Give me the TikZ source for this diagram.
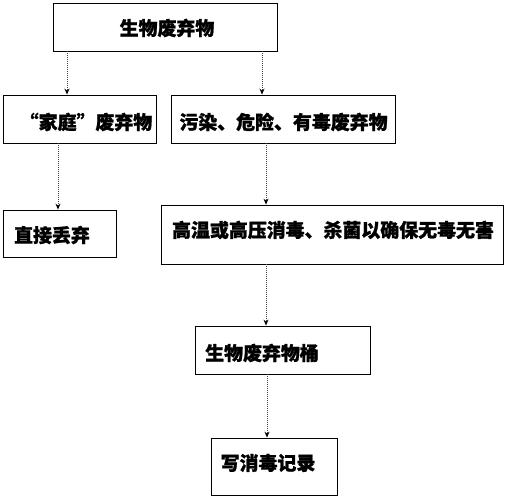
\documentclass[tikz,border=0pt]{standalone}
\usepackage{fontspec}
\newfontfamily\cjk{Noto Sans CJK SC}[BoldFeatures={FakeBold=1.2}]
\usetikzlibrary{arrows.meta}
\begin{document}
\begin{tikzpicture}[x=1bp,y=-1bp,
  box/.style={draw=black,line width=0.8bp,rectangle,inner sep=0pt},
  lbl/.style={inner sep=0pt,font=\cjk\bfseries\fontsize{19}{22}\selectfont},
  arr/.style={draw=black!75,line width=1bp,densely dotted,-{Stealth[length=6bp,width=5bp,black]}}]
\useasboundingbox (0,0) rectangle (507,498);
% boxes
\node[box,minimum width=224bp,minimum height=48bp] (b1) at (165,27) {};
\node[box,minimum width=153bp,minimum height=48bp] (b2) at (79.5,119) {};
\node[box,minimum width=224bp,minimum height=48bp] (b3) at (283,119) {};
\node[box,minimum width=113bp,minimum height=47bp] (b4) at (59.5,233.5) {};
\node[box,minimum width=342bp,minimum height=59bp] (b5) at (332,234.5) {};
\node[box,minimum width=175bp,minimum height=48bp] (b6) at (282.5,350) {};
\node[box,minimum width=126bp,minimum height=57bp] (b7) at (274,466.5) {};
% labels
\node[lbl] (t1) at (167,28) {生物废弃物};
\node[lbl] (t2) at (86,122) {“家庭”废弃物};
\node[lbl] (t3) at (283.5,122) {污染、危险、有毒废弃物};
\node[lbl] (t4) at (52,235) {直接丢弃};
\node[lbl] (t5) at (333,230) {高温或高压消毒、杀菌以确保无毒无害};
\node[lbl] (t6) at (262,353) {生物废弃物桶};
\node[lbl] (t7) at (268,463) {写消毒记录};
% arrow x positions
\coordinate (x1) at (67,0);
\coordinate (x2) at (262,0);
\coordinate (x3) at (58,0);
\coordinate (x4) at (266,0);
\coordinate (x5) at (266,0);
\coordinate (x6) at (267,0);
% connectors
\draw[arr] (b1.south -| x1) -- (b2.north -| x1);
\draw[arr] (b1.south -| x2) -- (b3.north -| x2);
\draw[arr] (b2.south -| x3) -- (b4.north -| x3);
\draw[arr] (b3.south -| x4) -- (b5.north -| x4);
\draw[arr] (b5.south -| x5) -- (b6.north -| x5);
\draw[arr] (b6.south -| x6) -- (b7.north -| x6);
\end{tikzpicture}
\end{document}
